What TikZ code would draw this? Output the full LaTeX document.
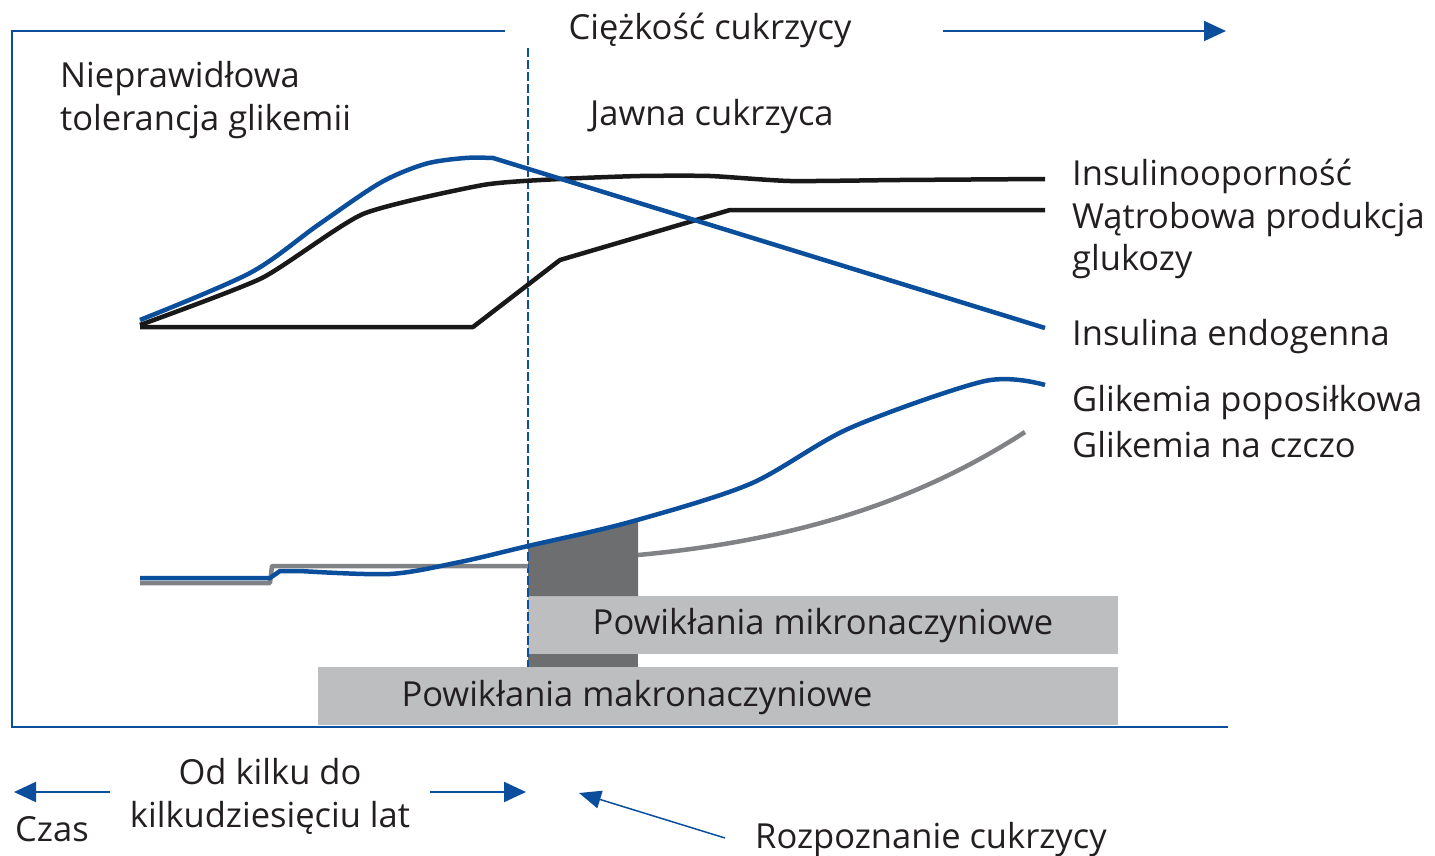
\documentclass[tikz,border=0pt]{standalone}
\usepackage{fontspec}
\setmainfont{Open Sans}
\usetikzlibrary{arrows.meta}
\definecolor{dblue}{HTML}{0B4F9C}
\definecolor{lgray}{HTML}{BDBEC0}
\definecolor{dgray}{HTML}{6D6E70}
\definecolor{mgray}{HTML}{808285}
\definecolor{txt}{HTML}{231F20}
\begin{document}
\begin{tikzpicture}[x=1pt,y=-1pt,
 lbl/.style={inner sep=0pt, text=txt, font=\fontsize{34.5}{43}\selectfont, anchor=base west},
 clbl/.style={lbl, anchor=base},
 frame/.style={draw=dblue, line width=2pt},
 curve/.style={line width=4.5pt, line join=round},
 tip/.style={-{Triangle[length=22pt,width=20pt]}, draw=dblue, line width=2pt},
 thintip/.style={-{Triangle[length=22pt,width=18pt]}, draw=dblue, line width=1.5pt}]
\useasboundingbox (0,0) rectangle (1435,856);
% bars
\fill[lgray] (528,596) rectangle (1118,654);
\fill[lgray] (318,667) rectangle (1118,725);
\fill[dgray] (528,654) rectangle (638,667);
\fill[dgray] (528,547) -- (580,535) -- (638,521) -- (638,596) -- (528,596) -- cycle;
% frame
\draw[frame] (505,31) -- (12,31) -- (12,727) -- (1228,727);
\coordinate (sevA) at (943,31);
\coordinate (sevB) at (1226,31);
\draw[tip] (sevA) -- (sevB);
% dashed diagnosis line
\draw[dblue, line width=1.5pt, dash pattern=on 9pt off 3pt] (528,48) -- (528,667);
% upper curves
\draw[curve, black!90] (140,327) -- (473,327) -- (560,260) -- (730,210) -- (1045,210);
\draw[curve, black!90] plot[smooth, tension=0.35] coordinates {(140,325) (262,278) (363,214) (483,185) (560,179) (640,176) (710,176) (790,181) (900,180) (1045,179)};
\draw[curve, dblue] plot[smooth, tension=0.5] coordinates {(140,320) (250,273) (318,225) (380,183) (425,164) (465,158) (493,158)} -- (1045,328);
% lower curves
\draw[curve, mgray] (140,583) -- (270,583) -- (272,566) -- (528,566);
\draw[curve, mgray] (638,555) .. controls (800,540) and (920,500) .. (1025,432);
\draw[curve, dblue] (140,578) -- (270,578) -- (280,571) -- (300,571) plot[smooth, tension=0.5] coordinates {(300,571) (390,574) (460,562) (528,546) (630,522) (750,484) (850,428) (985,381) (1045,385)};
% texts
\node[clbl] (sev) at (710,40) {Ciężkość cukrzycy};
\node[lbl] (igt1) at (60,88) {Nieprawidłowa};
\node[lbl] (igt2) at (60,131) {tolerancja glikemii};
\node[lbl] (jawna) at (590,126) {Jawna cukrzyca};
\node[lbl] (ir) at (1072,185) {Insulinooporność};
\node[lbl] (hgp1) at (1072,228) {Wątrobowa produkcja};
\node[lbl] (hgp2) at (1072,270) {glukozy};
\node[lbl] (ins) at (1072,345) {Insulina endogenna};
\node[lbl] (ppg) at (1072,411) {Glikemia poposiłkowa};
\node[lbl] (fpg) at (1072,457) {Glikemia na czczo};
\node[clbl] (micro) at (823,634) {Powikłania mikronaczyniowe};
\node[clbl] (macro) at (637,706) {Powikłania makronaczyniowe};
\node[clbl] (yrs1) at (270,784) {Od kilku do};
\node[clbl] (yrs2) at (270,827) {kilkudziesięciu lat};
\node[lbl] (czas) at (15,841) {Czas};
\node[lbl] (rozp) at (755,848) {Rozpoznanie cukrzycy};
% bottom arrows
\coordinate (tL0) at (110,792);
\coordinate (tL1) at (14,792);
\coordinate (tR0) at (430,792);
\coordinate (tR1) at (526,792);
\draw[tip] (tL0) -- (tL1);
\draw[tip] (tR0) -- (tR1);
\coordinate (dg0) at (725,838);
\coordinate (dg1) at (579,793);
\draw[thintip] (dg0) -- (dg1);
\end{tikzpicture}
\end{document}
